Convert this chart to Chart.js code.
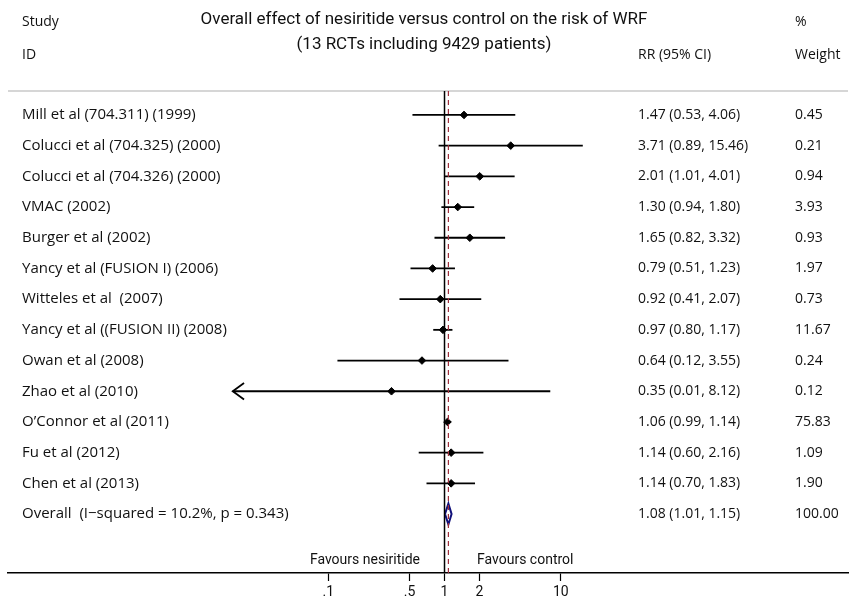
<!DOCTYPE html>
<html>
<head>
<meta charset="utf-8">
<script src="https://cdn.jsdelivr.net/npm/chart.js@4.4.1/dist/chart.umd.min.js"></script>
<style>
  html, body { margin: 0; padding: 0; background: #fff; }
  #wrap { width: 853px; height: 603px; }
</style>
</head>
<body>
<div id="wrap"><canvas id="forest" width="853" height="603"></canvas></div>
<script>
// Donnees du forest plot
const studies = [
    "Mill et al (704.311) (1999)",
    "Colucci et al (704.325) (2000)",
    "Colucci et al (704.326) (2000)",
    "VMAC (2002)",
    "Burger et al (2002)",
    "Yancy et al (FUSION I) (2006)",
    "Witteles et al  (2007)",
    "Yancy et al ((FUSION II) (2008)",
    "Owan et al (2008)",
    "Zhao et al (2010)",
    "O\u2019Connor et al (2011)",
    "Fu et al (2012)",
    "Chen et al (2013)"
];
const rr      = [1.47, 3.71, 2.01, 1.30, 1.65, 0.79, 0.92, 0.97, 0.64, 0.35, 1.06, 1.14, 1.14];
const ciLow   = [0.53, 0.89, 1.01, 0.94, 0.82, 0.51, 0.41, 0.80, 0.12, 0.01, 0.99, 0.60, 0.70];
const ciHigh  = [4.06, 15.46, 4.01, 1.80, 3.32, 1.23, 2.07, 1.17, 3.55, 8.12, 1.14, 2.16, 1.83];
const weights = [0.45, 0.21, 0.94, 3.93, 0.93, 1.97, 0.73, 11.67, 0.24, 0.12, 75.83, 1.09, 1.90];

const overallRR = 1.08;
const overallLow = 1.01;
const overallHigh = 1.15;
const overallWeight = 100.00;
const iSquared = 10.2;
const pValue = 0.343;

const tickValues = [0.1, 0.5, 1, 2, 10];
const tickLabels = [".1", ".5", "1", "2", "10"];

// Limites de l'axe (log) et troncature des IC
const xMin = Math.pow(10, -3.754);
const xMax = Math.pow(10, 3.47);
const xClip = 0.0151;
const yMin = -0.78;
const yMax = 14.92;
const overallRow = studies.length;

const FONT = "Roboto, 'Open Sans', sans-serif";
const FONT_TXT = "'Open Sans', Roboto, sans-serif";

// Construction des datasets
const datasets = [];

// ligne de reference a 1
datasets.push({
    data: [{ x: 1, y: yMin }, { x: 1, y: yMax }],
    showLine: true, borderColor: '#000', borderWidth: 1.5, pointRadius: 0
});
// ligne pointillee de l'effet global
datasets.push({
    data: [{ x: overallRR, y: yMin }, { x: overallRR, y: yMax }],
    showLine: true, borderColor: '#9e2f3c', borderWidth: 1.2, borderDash: [5, 4], pointRadius: 0
});

// intervalles de confiance
studies.forEach((s, i) => {
    const lo = Math.max(ciLow[i], xClip);
    datasets.push({
        data: [{ x: lo, y: i }, { x: ciHigh[i], y: i }],
        showLine: true, borderColor: '#000', borderWidth: 1.8, pointRadius: 0
    });
    if (ciLow[i] < xClip) {
        // fleche pour IC tronque
        const arm = xClip * 1.25;
        datasets.push({
            data: [{ x: arm, y: i - 0.27 }, { x: xClip, y: i }, { x: arm, y: i + 0.27 }],
            showLine: true, borderColor: '#000', borderWidth: 1.8, pointRadius: 0
        });
    }
});

// estimations ponctuelles
datasets.push({
    data: rr.map((v, i) => ({ x: v, y: i })),
    showLine: false, pointStyle: 'rectRot', pointRadius: 3.8,
    backgroundColor: '#000', borderColor: '#000', borderWidth: 1
});

// losange global
datasets.push({
    data: [
        { x: overallLow, y: overallRow },
        { x: overallRR, y: overallRow - 0.34 },
        { x: overallHigh, y: overallRow },
        { x: overallRR, y: overallRow + 0.34 },
        { x: overallLow, y: overallRow }
    ],
    showLine: true, borderColor: '#10107a', borderWidth: 2, pointRadius: 0, fill: false
});

// Plugin pour le texte (colonnes, titre)
const textPlugin = {
    id: 'forestText',
    beforeDraw(chart) {
        const { ctx, chartArea } = chart;
        ctx.save();
        ctx.strokeStyle = '#c8c8c8';
        ctx.lineWidth = 1.5;
        ctx.beginPath();
        ctx.moveTo(chartArea.left, chartArea.top);
        ctx.lineTo(chartArea.right, chartArea.top);
        ctx.stroke();
        ctx.restore();
    },
    afterDraw(chart) {
        const { ctx } = chart;
        const y = chart.scales.y;
        const colLabel = 22, colRR = 638, colW = 795;
        ctx.save();
        ctx.fillStyle = '#111';
        ctx.textBaseline = 'middle';

        // en-tetes
        ctx.font = "14px " + FONT_TXT;
        ctx.textAlign = 'left';
        ctx.fillText("Study", colLabel, 22);
        ctx.fillText("ID", colLabel, 55);
        ctx.fillText("%", colW, 22);
        ctx.fillText("Weight", colW, 55);
        ctx.fillText("RR (95% CI)", colRR, 55);

        // titre
        ctx.font = "17px " + FONT;
        ctx.textAlign = 'center';
        ctx.fillText("Overall effect of nesiritide versus control on the risk of WRF", 424, 20);
        ctx.fillText("(13 RCTs including 9429 patients)", 424, 45);

        // lignes d'etudes
        ctx.textAlign = 'left';
        studies.forEach((s, i) => {
            const py = y.getPixelForValue(i);
            ctx.font = "15px " + FONT_TXT;
            ctx.fillText(s, colLabel, py);
            ctx.font = "14px " + FONT_TXT;
            ctx.fillText(rr[i].toFixed(2) + " (" + ciLow[i].toFixed(2) + ", " + ciHigh[i].toFixed(2) + ")", colRR, py);
            ctx.fillText(weights[i].toFixed(2), colW, py);
        });
        const po = y.getPixelForValue(overallRow);
        ctx.font = "15px " + FONT_TXT;
        ctx.fillText("Overall  (I\u2212squared = " + iSquared.toFixed(1) + "%, p = " + pValue.toFixed(3) + ")", colLabel, po);
        ctx.font = "14px " + FONT_TXT;
        ctx.fillText(overallRR.toFixed(2) + " (" + overallLow.toFixed(2) + ", " + overallHigh.toFixed(2) + ")", colRR, po);
        ctx.fillText(overallWeight.toFixed(2), colW, po);

        // favorise
        ctx.font = "14px " + FONT;
        ctx.textAlign = 'right';
        ctx.fillText("Favours nesiritide", 420, 560);
        ctx.textAlign = 'left';
        ctx.fillText("Favours control", 477, 560);
        ctx.restore();
    }
};

const ctx = document.getElementById('forest').getContext('2d');
new Chart(ctx, {
    type: 'scatter',
    data: { datasets: datasets },
    plugins: [textPlugin],
    options: {
        responsive: false,
        animation: false,
        layout: { padding: { left: 8, right: 0, top: 91, bottom: 0 } },
        plugins: {
            legend: { display: false },
            tooltip: { enabled: false }
        },
        scales: {
            x: {
                type: 'logarithmic',
                min: xMin,
                max: xMax,
                afterBuildTicks: (scale) => {
                    scale.ticks = tickValues.map(v => ({ value: v }));
                },
                afterFit: (scale) => { scale.height = 30; },
                ticks: {
                    autoSkip: false,
                    maxRotation: 0,
                    padding: 3,
                    color: '#111',
                    font: { family: FONT, size: 14 },
                    callback: (value) => {
                        const idx = tickValues.indexOf(value);
                        return idx >= 0 ? tickLabels[idx] : '';
                    }
                },
                grid: {
                    display: true,
                    drawOnChartArea: false,
                    drawTicks: true,
                    tickLength: 8,
                    tickColor: '#000',
                    tickWidth: 1.2
                },
                border: { display: true, color: '#000', width: 1.5 }
            },
            y: {
                type: 'linear',
                display: false,
                reverse: true,
                min: yMin,
                max: yMax
            }
        }
    }
});
</script>
</body>
</html>
